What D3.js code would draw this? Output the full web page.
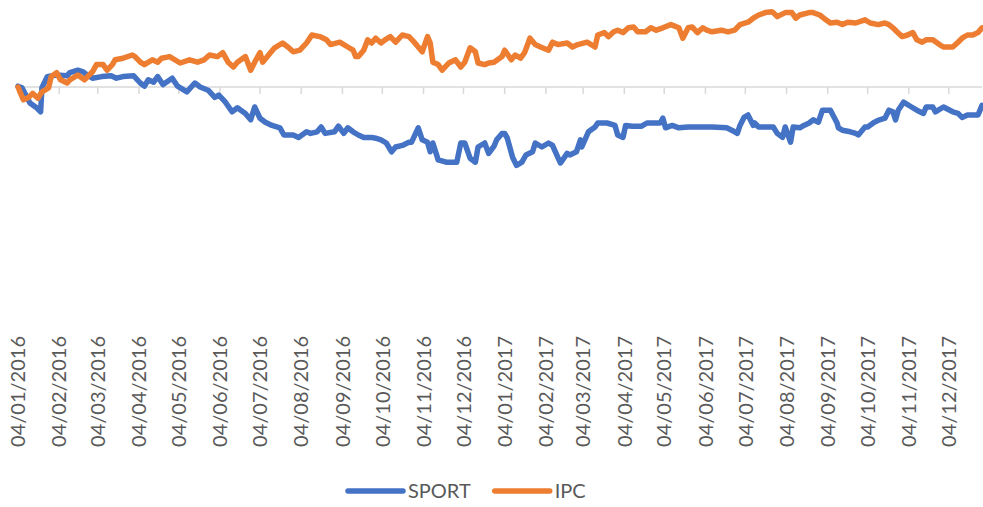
<!DOCTYPE html>
<html>
<head>
<meta charset="utf-8">
<script src="https://cdn.jsdelivr.net/npm/d3@7"></script>
<style>
  html, body { margin: 0; padding: 0; background: #fff; }
  svg { display: block; font-family: Lato, "Open Sans", sans-serif; }
</style>
</head>
<body>
<svg id="chart" width="983" height="507"></svg>
<script>
// Monthly category labels along the date axis (dd/mm/yyyy)
const tickLabels = [
  "04/01/2016","04/02/2016","04/03/2016","04/04/2016","04/05/2016","04/06/2016",
  "04/07/2016","04/08/2016","04/09/2016","04/10/2016","04/11/2016","04/12/2016",
  "04/01/2017","04/02/2017","04/03/2017","04/04/2017","04/05/2017","04/06/2017",
  "04/07/2017","04/08/2017","04/09/2017","04/10/2017","04/11/2017","04/12/2017"
];

const seriesNames = ["SPORT", "IPC"];
const seriesColors = ["#4472C4", "#ED7D31"];

// SPORT: cumulative change (%)
const sportDates = [
  "2016-01-04","2016-01-07","2016-01-13","2016-01-18","2016-01-21","2016-01-22","2016-01-26","2016-02-02",
  "2016-02-10","2016-02-12","2016-02-18","2016-02-22","2016-02-25","2016-02-29","2016-03-07","2016-03-14",
  "2016-03-18","2016-03-23","2016-03-31","2016-04-05","2016-04-08","2016-04-11","2016-04-15","2016-04-18",
  "2016-04-22","2016-04-29","2016-05-03","2016-05-10","2016-05-16","2016-05-20","2016-05-26","2016-05-31",
  "2016-06-03","2016-06-08","2016-06-13","2016-06-17","2016-06-23","2016-06-27","2016-06-30","2016-07-04",
  "2016-07-08","2016-07-13","2016-07-19","2016-07-22","2016-07-29","2016-08-02","2016-08-08","2016-08-11",
  "2016-08-16","2016-08-19","2016-08-22","2016-08-29","2016-09-01","2016-09-05","2016-09-08","2016-09-12",
  "2016-09-16","2016-09-20","2016-09-26","2016-09-29","2016-10-03","2016-10-07","2016-10-11","2016-10-14",
  "2016-10-19","2016-10-24","2016-10-26","2016-10-31","2016-11-03","2016-11-07","2016-11-09","2016-11-11",
  "2016-11-15","2016-11-21","2016-11-29","2016-12-02","2016-12-05","2016-12-09","2016-12-13","2016-12-15",
  "2016-12-20","2016-12-23","2016-12-27","2016-12-29","2017-01-02","2017-01-04","2017-01-06","2017-01-10",
  "2017-01-13","2017-01-17","2017-01-20","2017-01-25","2017-01-27","2017-02-01","2017-02-06","2017-02-09",
  "2017-02-13","2017-02-15","2017-02-20","2017-02-22","2017-02-27","2017-03-02","2017-03-03","2017-03-08",
  "2017-03-13","2017-03-15","2017-03-22","2017-03-28","2017-03-30","2017-04-03","2017-04-05","2017-04-10",
  "2017-04-17","2017-04-21","2017-05-01","2017-05-03","2017-05-05","2017-05-10","2017-05-15","2017-05-22",
  "2017-05-31","2017-06-09","2017-06-20","2017-06-26","2017-06-28","2017-06-30","2017-07-03","2017-07-06",
  "2017-07-10","2017-07-11","2017-07-14","2017-07-20","2017-07-25","2017-07-28","2017-08-01","2017-08-03",
  "2017-08-07","2017-08-09","2017-08-14","2017-08-17","2017-08-21","2017-08-24","2017-08-28","2017-08-31",
  "2017-09-06","2017-09-11","2017-09-12","2017-09-15","2017-09-21","2017-09-25","2017-09-27","2017-10-02",
  "2017-10-04","2017-10-09","2017-10-13","2017-10-17","2017-10-20","2017-10-23","2017-10-25","2017-10-27",
  "2017-10-31","2017-11-06","2017-11-10","2017-11-15","2017-11-17","2017-11-22","2017-11-24","2017-11-30",
  "2017-12-07","2017-12-11","2017-12-14","2017-12-18","2017-12-22","2017-12-26","2017-12-29"
];
const sportValues = [
  0.1,-0.1,-2.0,-2.6,-3.1,-0.1,1.3,1.5,
  1.4,1.8,2.1,1.9,1.5,1.1,1.3,1.4,
  1.1,1.3,1.4,0.5,0.1,0.9,0.6,1.3,
  0.3,1.1,0.1,-0.6,0.5,0.0,-0.4,-1.3,
  -1.0,-1.9,-3.1,-2.6,-3.3,-4.1,-2.5,-3.9,
  -4.4,-4.8,-5.1,-6.0,-6.0,-6.3,-5.6,-5.8,
  -5.6,-5.0,-5.8,-5.6,-4.9,-5.8,-5.1,-5.6,
  -6.0,-6.3,-6.3,-6.4,-6.6,-7.0,-8.1,-7.5,
  -7.3,-6.9,-6.9,-5.1,-6.6,-6.9,-8.1,-7.0,
  -9.1,-9.4,-9.4,-7.0,-7.0,-8.9,-9.4,-7.5,
  -7.0,-8.3,-7.4,-6.6,-5.8,-5.8,-6.4,-8.8,
  -9.8,-9.4,-8.5,-8.1,-7.0,-7.5,-7.0,-7.3,
  -8.8,-9.5,-8.3,-8.5,-8.1,-6.6,-7.5,-5.6,
  -5.0,-4.5,-4.5,-4.8,-6.0,-6.3,-4.8,-4.9,
  -4.9,-4.5,-4.5,-3.9,-5.1,-4.8,-5.1,-5.0,
  -5.0,-5.0,-5.1,-5.6,-5.8,-4.8,-3.8,-3.5,
  -4.8,-4.5,-5.0,-5.0,-5.0,-5.8,-6.3,-5.0,
  -6.9,-5.0,-5.1,-4.8,-4.5,-4.1,-4.4,-2.9,
  -2.9,-4.5,-5.1,-5.4,-5.6,-5.8,-6.0,-5.0,
  -5.0,-4.4,-4.1,-3.9,-2.9,-3.1,-4.1,-2.9,
  -1.9,-2.5,-2.9,-3.3,-2.5,-2.5,-3.1,-2.5,
  -3.1,-3.3,-3.8,-3.5,-3.5,-3.5,-2.3
];

// IPC: cumulative change (%)
const ipcDates = [
  "2016-01-04","2016-01-08","2016-01-12","2016-01-15","2016-01-19","2016-01-22","2016-01-27","2016-01-29",
  "2016-02-02","2016-02-05","2016-02-10","2016-02-12","2016-02-18","2016-02-23","2016-02-29","2016-03-03",
  "2016-03-08","2016-03-11","2016-03-15","2016-03-17","2016-03-23","2016-03-30","2016-04-01","2016-04-05",
  "2016-04-08","2016-04-14","2016-04-18","2016-04-21","2016-04-27","2016-05-05","2016-05-12","2016-05-18",
  "2016-05-23","2016-05-27","2016-06-02","2016-06-06","2016-06-10","2016-06-14","2016-06-17","2016-06-23",
  "2016-06-27","2016-06-30","2016-07-04","2016-07-06","2016-07-12","2016-07-15","2016-07-21","2016-07-25",
  "2016-07-29","2016-08-03","2016-08-08","2016-08-12","2016-08-18","2016-08-23","2016-08-26","2016-09-02",
  "2016-09-08","2016-09-12","2016-09-14","2016-09-16","2016-09-20","2016-09-23","2016-09-26","2016-09-29",
  "2016-10-03","2016-10-06","2016-10-10","2016-10-14","2016-10-19","2016-10-24","2016-10-28","2016-11-03",
  "2016-11-07","2016-11-09","2016-11-11","2016-11-15","2016-11-18","2016-11-23","2016-11-28","2016-12-02",
  "2016-12-05","2016-12-09","2016-12-13","2016-12-15","2016-12-20","2016-12-23","2016-12-27","2017-01-02",
  "2017-01-04","2017-01-09","2017-01-12","2017-01-16","2017-01-19","2017-01-23","2017-01-27","2017-01-31",
  "2017-02-06","2017-02-09","2017-02-13","2017-02-20","2017-02-24","2017-02-28","2017-03-07","2017-03-13",
  "2017-03-15","2017-03-20","2017-03-23","2017-03-27","2017-03-30","2017-04-03","2017-04-07","2017-04-11",
  "2017-04-14","2017-04-20","2017-04-24","2017-04-28","2017-05-03","2017-05-09","2017-05-15","2017-05-18",
  "2017-05-22","2017-05-25","2017-05-29","2017-06-02","2017-06-05","2017-06-09","2017-06-16","2017-06-21",
  "2017-06-26","2017-06-30","2017-07-06","2017-07-10","2017-07-14","2017-07-19","2017-07-24","2017-07-25",
  "2017-07-28","2017-08-03","2017-08-08","2017-08-11","2017-08-14","2017-08-21","2017-08-24","2017-08-29",
  "2017-09-01","2017-09-06","2017-09-11","2017-09-15","2017-09-19","2017-09-25","2017-10-02","2017-10-06",
  "2017-10-12","2017-10-17","2017-10-20","2017-10-23","2017-10-26","2017-10-30","2017-11-03","2017-11-07",
  "2017-11-10","2017-11-14","2017-11-17","2017-11-22","2017-11-27","2017-11-30","2017-12-07","2017-12-11",
  "2017-12-14","2017-12-18","2017-12-22","2017-12-26","2017-12-29"
];
const ipcValues = [
  0.0,-1.6,-1.3,-0.8,-1.4,-0.6,-0.1,1.3,
  1.8,0.9,0.5,0.9,1.5,0.9,1.9,2.8,
  2.8,2.1,2.8,3.4,3.6,4.0,3.8,3.1,
  2.8,3.4,3.1,3.6,3.8,3.0,3.4,3.1,
  3.4,4.0,3.8,4.3,3.1,2.5,3.1,3.8,
  2.1,3.1,4.3,3.1,4.3,4.9,5.5,5.0,
  4.4,4.6,5.5,6.5,6.3,5.9,5.3,5.6,
  5.0,4.6,3.8,3.8,4.6,5.9,5.5,6.1,
  5.5,5.9,6.3,5.6,6.5,6.3,5.6,4.4,
  6.3,5.5,3.1,2.8,2.1,3.0,3.4,2.5,
  3.1,4.9,4.4,3.0,2.8,3.0,3.1,3.8,
  4.6,3.4,4.0,3.6,4.3,6.1,5.3,5.0,
  4.6,5.6,5.3,5.5,5.0,5.3,5.6,5.0,
  6.5,6.8,6.3,6.9,7.1,6.8,7.4,7.5,
  6.9,6.9,7.4,7.1,7.4,7.8,7.4,6.1,
  7.4,7.5,6.8,7.4,7.1,6.9,7.1,6.9,
  7.1,7.8,8.1,8.6,9.0,9.3,9.4,9.3,
  8.8,9.3,9.3,8.6,9.0,9.3,9.3,9.0,
  8.6,8.0,8.1,7.8,8.1,8.0,8.4,8.0,
  7.8,8.0,7.8,7.4,6.9,6.3,6.5,6.8,
  5.9,5.6,5.9,5.9,5.3,5.0,5.0,5.6,
  6.1,6.5,6.5,6.8,7.4
];

const parseISO = d3.timeParse("%Y-%m-%d");
const parseLabel = d3.timeParse("%d/%m/%Y");

const series = [
  { name: seriesNames[0], color: seriesColors[0],
    points: sportDates.map((d, i) => ({ date: parseISO(d), value: sportValues[i] })) },
  { name: seriesNames[1], color: seriesColors[1],
    points: ipcDates.map((d, i) => ({ date: parseISO(d), value: ipcValues[i] })) }
];

const tickDates = tickLabels.map(parseLabel);
const lastDate = d3.max(series, s => d3.max(s.points, p => p.date));

const svg = d3.select("#chart");

const x = d3.scaleTime()
  .domain([tickDates[0], lastDate])
  .range([18, 982]);

const y = d3.scaleLinear()
  .domain([-30, 10])
  .range([327, 7]);

const textColor = "#595959";
const axisColor = "#D9D9D9";
const fontSize = 20;
const y0 = y(0);

// Horizontal date axis crossing at zero
const axisG = svg.append("g").attr("class", "x-axis");
axisG.append("line")
  .attr("x1", x.range()[0]).attr("x2", x.range()[1])
  .attr("y1", y0).attr("y2", y0)
  .attr("stroke", axisColor).attr("stroke-width", 1.5);

axisG.selectAll("line.tick")
  .data(tickDates)
  .join("line")
  .attr("class", "tick")
  .attr("x1", d => x(d)).attr("x2", d => x(d))
  .attr("y1", y0).attr("y2", y0 + 7)
  .attr("stroke", axisColor).attr("stroke-width", 1.5);

// Rotated month labels placed below the plot area
svg.append("g").attr("class", "x-labels")
  .selectAll("text")
  .data(tickLabels)
  .join("text")
  .attr("transform", (d, i) => `translate(${x(tickDates[i])},336) rotate(-90)`)
  .attr("text-anchor", "end")
  .attr("dy", "0.36em")
  .attr("fill", textColor)
  .attr("font-size", fontSize)
  .text(d => d);

// Series lines
const line = d3.line()
  .x(d => x(d.date))
  .y(d => y(d.value));

svg.append("g").attr("class", "series")
  .selectAll("path")
  .data(series)
  .join("path")
  .attr("d", d => line(d.points))
  .attr("fill", "none")
  .attr("stroke", d => d.color)
  .attr("stroke-width", 5.5)
  .attr("stroke-linejoin", "round")
  .attr("stroke-linecap", "round");

// Legend
const legend = svg.append("g").attr("class", "legend");
let lx = 348;
const ly = 491;
series.forEach(s => {
  legend.append("line")
    .attr("x1", lx).attr("x2", lx + 55)
    .attr("y1", ly).attr("y2", ly)
    .attr("stroke", s.color).attr("stroke-width", 5.5)
    .attr("stroke-linecap", "round");
  const t = legend.append("text")
    .attr("x", lx + 60).attr("y", ly)
    .attr("dy", "0.36em")
    .attr("fill", textColor)
    .attr("font-size", fontSize)
    .text(s.name);
  lx += 60 + t.node().getComputedTextLength() + 24;
});
</script>
</body>
</html>
